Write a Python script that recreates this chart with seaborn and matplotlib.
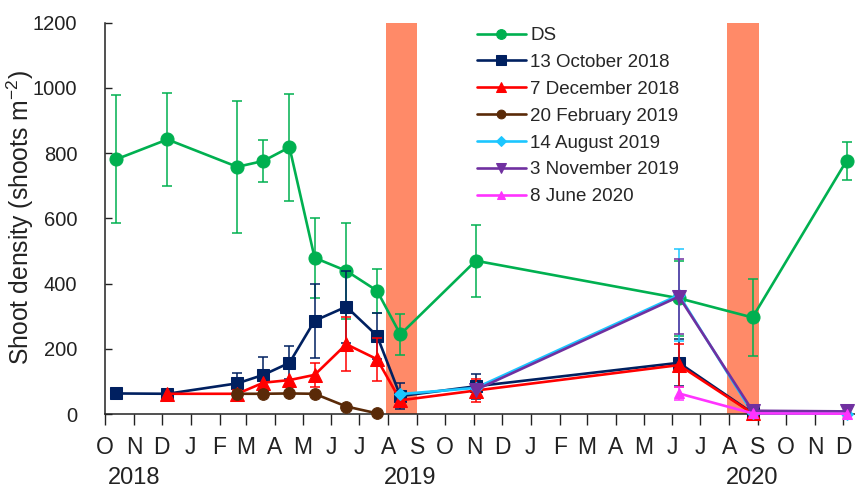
import matplotlib
matplotlib.use("Agg")
import matplotlib.pyplot as plt
import matplotlib.dates as mdates
import numpy as np
import pandas as pd
import seaborn as sns

# Sampling dates
ds_dates = ["2018-10-13", "2018-12-07", "2019-02-20", "2019-03-20", "2019-04-17",
            "2019-05-14", "2019-06-17", "2019-07-20", "2019-08-14", "2019-11-03",
            "2020-06-08", "2020-08-26", "2020-12-05"]
oct18_dates = ds_dates[:12]
dec18_dates = ds_dates[1:12]
feb19_dates = ds_dates[2:8]
aug19_dates = ["2019-08-14", "2019-11-03", "2020-06-08", "2020-08-26", "2020-12-05"]
nov19_dates = ["2019-11-03", "2020-06-08", "2020-08-26", "2020-12-05"]
jun20_dates = ["2020-06-08", "2020-08-26", "2020-12-05"]

# Shoot density (shoots m-2) and error
ds_vals = [781, 842, 758, 776, 818, 479, 439, 378, 244, 470, 355, 296, 777]
ds_err = [196, 142, 203, 65, 164, 122, 147, 68, 63, 110, 115, 118, 58]
oct18_vals = [63, 62, 94, 120, 157, 286, 329, 240, 55, 85, 157, 3]
oct18_err = [0, 0, 33, 54, 51, 113, 110, 71, 40, 38, 72, 0]
dec18_vals = [62, 62, 96, 104, 120, 214, 168, 42, 72, 150, 2]
dec18_err = [0, 13, 0, 0, 37, 83, 66, 15, 35, 66, 0]
feb19_vals = [62, 62, 63, 62, 23, 2]
feb19_err = [0, 0, 0, 0, 0, 0]
aug19_vals = [61, 80, 365, 3, 1]
aug19_err = [0, 0, 140, 0, 0]
nov19_vals = [74, 360, 10, 8]
nov19_err = [0, 115, 0, 0]
jun20_vals = [63, 2, 1]
jun20_err = [21, 0, 0]

labels = ["DS", "13 October 2018", "7 December 2018", "20 February 2019",
          "14 August 2019", "3 November 2019", "8 June 2020"]

# Closure periods shaded on the time axis
closures = [("2019-07-30", "2019-09-01"), ("2020-07-30", "2020-09-02")]

year_labels = ["2018", "2019", "2020"]
year_label_dates = ["2018-11-01", "2019-08-24", "2020-08-26"]

series = [
    (ds_dates, ds_vals, ds_err, "#00B050", "o", 9.4),
    (oct18_dates, oct18_vals, oct18_err, "#002060", "s", 9.0),
    (dec18_dates, dec18_vals, dec18_err, "#FF0000", "^", 9.4),
    (feb19_dates, feb19_vals, feb19_err, "#5A2A08", "o", 8.4),
    (aug19_dates, aug19_vals, aug19_err, "#1CC6FF", "D", 6.6),
    (nov19_dates, nov19_vals, nov19_err, "#7030A0", "v", 9.4),
    (jun20_dates, jun20_vals, jun20_err, "#FF33FF", "^", 7.6),
]

sns.set_style("ticks")
plt.rcParams["font.family"] = ["Liberation Sans", "DejaVu Sans"]
plt.rcParams["mathtext.fontset"] = "custom"
plt.rcParams["mathtext.rm"] = "Liberation Sans"
plt.rcParams["mathtext.it"] = "Liberation Sans"

fig = plt.figure(figsize=(8.55, 4.88), dpi=100)
ax = fig.add_axes([105 / 855, 1 - 414 / 488, 1 - 105 / 855, (414 - 22.7) / 488])

for start, end in closures:
    ax.axvspan(pd.Timestamp(start), pd.Timestamp(end), color="#FF8A68", lw=0, zorder=0)

for i, (dates, vals, errs, color, marker, ms) in enumerate(series):
    d = pd.to_datetime(dates)
    df = pd.DataFrame({"date": d, "value": vals})
    sns.lineplot(data=df, x="date", y="value", ax=ax, color=color, marker=marker,
                 markersize=ms, markeredgecolor=color, linewidth=1.9,
                 label=labels[i], zorder=3 + i, clip_on=False)
    errs = np.asarray(errs)
    m = errs > 0
    if m.any():
        ax.errorbar(d[m], np.asarray(vals)[m], yerr=errs[m], fmt="none",
                    ecolor=color, elinewidth=1.1, capsize=3.8, capthick=1.1,
                    zorder=3 + i)

ax.set_ylim(0, 1200)
ax.set_yticks(np.arange(0, 1201, 200))
ax.set_xlim(pd.Timestamp("2018-10-01"), pd.Timestamp("2020-12-14"))
ax.xaxis.set_major_locator(mdates.MonthLocator())
ax.xaxis.set_major_formatter(plt.FuncFormatter(lambda v, p: mdates.num2date(v).strftime("%b")[0]))

ax.tick_params(axis="y", direction="in", length=5, width=1, labelsize=14.5, pad=20,
               colors="#222222")
ax.tick_params(axis="x", direction="out", length=8, width=1, labelsize=16.5, pad=8,
               colors="#222222")
for s in ["top", "right"]:
    ax.spines[s].set_visible(False)
for s in ["left", "bottom"]:
    ax.spines[s].set_color("#222222")
    ax.spines[s].set_linewidth(1.1)

ax.set_xlabel("")
ax.set_ylabel("Shoot density (shoots m$^{-2}$)", fontsize=17.8, color="#222222")
ax.yaxis.set_label_coords((36 - 105) / 750, 0.503)

for txt, dt in zip(year_labels, year_label_dates):
    ax.text(pd.Timestamp(dt), -(484 - 414) / 391.3, txt,
            transform=ax.get_xaxis_transform(),
            ha="center", va="baseline", fontsize=17, color="#222222")

leg = ax.legend(loc="upper left", bbox_to_anchor=(477 / 855, 1 - 27 / 488),
                bbox_transform=fig.transFigure, frameon=False, fontsize=13.5,
                handlelength=2.6, handletextpad=0.25, labelspacing=0.52,
                borderpad=0, borderaxespad=0, markerscale=0.75)

fig.savefig("out.png", dpi=100)
